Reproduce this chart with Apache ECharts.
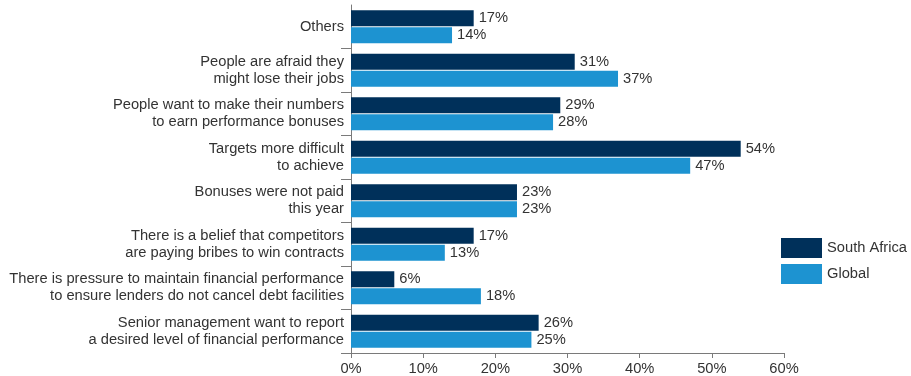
<!DOCTYPE html>
<html>
<head>
<meta charset="utf-8">
<style>
  html, body { margin: 0; padding: 0; background: #fff; }
  #chart { width: 911px; height: 376px; }
</style>
<script src="https://cdn.jsdelivr.net/npm/echarts@6/dist/echarts.min.js"></script>
</head>
<body>
<div id="chart"></div>
<script>
// Reasons given for pressure to misstate performance (share of respondents, %)
const categories = [
  'Others',
  'People are afraid they\nmight lose their jobs',
  'People want to make their numbers\nto earn performance bonuses',
  'Targets more difficult\nto achieve',
  'Bonuses were not paid\nthis year',
  'There is a belief that competitors\nare paying bribes to win contracts',
  'There is pressure to maintain financial performance\nto ensure lenders do not cancel debt facilities',
  'Senior management want to report\na desired level of financial performance'
];
const southAfrica = [17, 31, 29, 54, 23, 17, 6, 26];
const globalValues = [14, 37, 28, 47, 23, 13, 18, 25];
const xTicks = [0, 10, 20, 30, 40, 50, 60];

const FONT = '"Liberation Sans", Arial, Helvetica, sans-serif';
const FONT_SIZE = 14.7;
const TEXT = '#333333';
const AXIS = '#7a7a7a';

const chart = echarts.init(document.getElementById('chart'), null, { renderer: 'canvas' });

const valueLabel = {
  show: true,
  position: 'right',
  distance: 5,
  formatter: p => p.value + '%',
  fontFamily: FONT,
  fontSize: FONT_SIZE,
  color: TEXT
};

chart.setOption({
  animation: false,
  backgroundColor: '#ffffff',
  grid: { left: 351, right: 127, top: 5, bottom: 23, containLabel: false },
  legend: {
    orient: 'vertical',
    left: 776,
    top: 233,
    itemWidth: 41,
    itemHeight: 20,
    itemGap: 6,
    icon: 'rect',
    textStyle: { fontFamily: FONT, fontSize: FONT_SIZE, color: TEXT },
    data: ['South Africa', 'Global']
  },
  xAxis: {
    type: 'value',
    min: xTicks[0],
    max: xTicks[xTicks.length - 1],
    interval: 10,
    splitLine: { show: false },
    axisLine: { show: true, lineStyle: { color: AXIS, width: 1 } },
    axisTick: { show: true, length: 5, lineStyle: { color: AXIS } },
    axisLabel: {
      margin: 8,
      fontFamily: FONT,
      fontSize: FONT_SIZE,
      color: TEXT,
      formatter: v => v + '%'
    }
  },
  yAxis: {
    type: 'category',
    inverse: true,
    data: categories,
    axisLine: { show: true, lineStyle: { color: AXIS, width: 1 } },
    axisTick: {
      show: true,
      length: 10,
      interval: (i) => i !== 0,
      lineStyle: { color: AXIS }
    },
    axisLabel: {
      interval: 0,
      margin: 7,
      fontFamily: FONT,
      fontSize: FONT_SIZE,
      lineHeight: 17,
      color: TEXT,
      align: 'right'
    }
  },
  series: [
    {
      name: 'South Africa',
      type: 'bar',
      data: southAfrica,
      barWidth: 16,
      barGap: '6%',
      itemStyle: { color: '#00305a' },
      label: valueLabel
    },
    {
      name: 'Global',
      type: 'bar',
      data: globalValues,
      barWidth: 16,
      barGap: '6%',
      itemStyle: { color: '#1d93d1' },
      label: valueLabel
    }
  ]
});
</script>
</body>
</html>
